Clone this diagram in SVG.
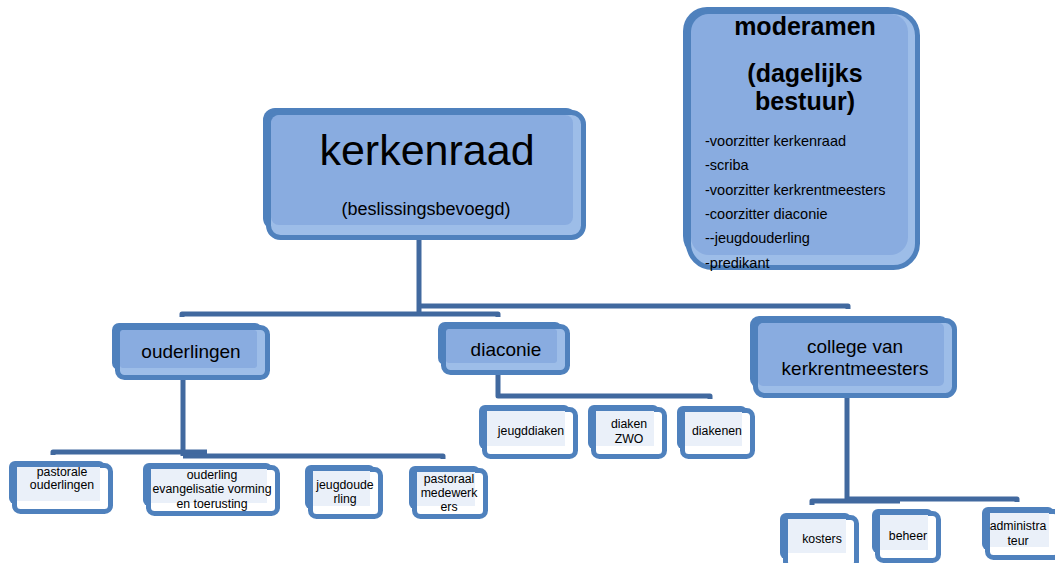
<svg xmlns="http://www.w3.org/2000/svg" width="1055" height="563" viewBox="0 0 1055 563">
<style>
text{font-family:"Liberation Sans",Arial,sans-serif;fill:#000}
.back{fill:#4f81bd}
.front{fill:#9dbde8;stroke:#4f81bd;stroke-width:5}
.inner{fill:#89ace0}
.cfront{fill:#ffffff;stroke:#4f81bd;stroke-width:5}
.cinner{fill:#eaf0f9}
.conn{fill:none;stroke:#41699f;stroke-width:5;stroke-linejoin:round}
.big{font-size:43px;text-anchor:middle}
.mid{font-size:19px;text-anchor:middle}
.small{font-size:12.3px;text-anchor:middle}
.mtitle{font-size:25px;font-weight:bold;text-anchor:middle}
.list{font-size:14.5px}
</style>
<rect width="1055" height="563" fill="#ffffff"/>
<g id="connectors">
<path class="conn" d="M419,238 V314"/>
<path class="conn" d="M419,306 H848 V309"/>
<path class="conn" d="M182,317 V314 H498 V317"/>
<path class="conn" d="M183,378 V456"/>
<path class="conn" d="M53,455 V452 H207"/>
<path class="conn" d="M183,456 H443 V459"/>
<path class="conn" d="M498,375 V396 H710 V399"/>
<path class="conn" d="M847,398 V499"/>
<path class="conn" d="M812,505 V501 H900 M847,499 H1017 V502"/>
</g>
<g id="kerkenraad">
<rect class="back" x="263" y="108" width="315" height="122" rx="12"/>
<rect class="front" x="268.5" y="112.5" width="315" height="125" rx="12"/>
<rect class="inner" x="271" y="115" width="302" height="110" rx="8"/>
<text class="big" x="427" y="165">kerkenraad</text>
<text x="426" y="215" style="font-size:18px;text-anchor:middle">(beslissingsbevoegd)</text>
</g>
<g id="moderamen">
<rect class="back" x="683" y="7" width="229" height="253" rx="24"/>
<rect class="front" x="688.5" y="11.5" width="229" height="256" rx="24"/>
<rect class="inner" x="691" y="14" width="217" height="241" rx="18"/>
<text class="mtitle" x="805" y="35">moderamen</text>
<text class="mtitle" x="805" y="82">(dagelijks</text>
<text class="mtitle" x="805" y="110">bestuur)</text>
<text class="list" x="705" y="146">-voorzitter kerkenraad</text>
<text class="list" x="705" y="170">-scriba</text>
<text class="list" x="705" y="195">-voorzitter kerkrentmeesters</text>
<text class="list" x="705" y="219">-coorzitter diaconie</text>
<text class="list" x="705" y="243">--jeugdouderling</text>
<text class="list" x="705" y="268">-predikant</text>
</g>
<g id="ouderlingen">
<rect class="back" x="112" y="323" width="150" height="47" rx="7"/>
<rect class="front" x="117.5" y="327.5" width="150" height="50" rx="7"/>
<rect class="inner" x="120" y="330" width="137" height="38" rx="3"/>
<text class="mid" x="191" y="358">ouderlingen</text>
</g>
<g id="diaconie">
<rect class="back" x="438" y="322" width="124" height="43" rx="7"/>
<rect class="front" x="443.5" y="326.5" width="124" height="46" rx="7"/>
<rect class="inner" x="446" y="329" width="111" height="34" rx="3"/>
<text class="mid" x="506" y="356">diaconie</text>
</g>
<g id="college">
<rect class="back" x="750" y="316" width="199" height="72" rx="9"/>
<rect class="front" x="755.5" y="320.5" width="199" height="75" rx="9"/>
<rect class="inner" x="758" y="323" width="186" height="63" rx="5"/>
<text class="mid" x="855" y="353">college van</text>
<text class="mid" x="855" y="375">kerkrentmeesters</text>
</g>
<g id="pastorale-ouderlingen">
<rect class="back" x="9" y="461" width="96" height="43" rx="6"/>
<rect class="front cfront" x="14.5" y="465.5" width="96" height="46" rx="6"/>
<rect class="cinner" x="17" y="467" width="83" height="34"/>
<text class="small" x="62" y="476">pastorale</text>
<text class="small" x="62" y="489">ouderlingen</text>
</g>
<g id="ouderling-evangelisatie">
<rect class="back" x="143" y="463" width="129" height="43" rx="6"/>
<rect class="front cfront" x="148.5" y="467.5" width="129" height="46" rx="6"/>
<rect class="cinner" x="151" y="469" width="116" height="34"/>
<text class="small" x="212" y="479">ouderling</text>
<text class="small" x="212" y="493">evangelisatie vorming</text>
<text class="small" x="212" y="508">en toerusting</text>
</g>
<g id="jeugdouderling">
<rect class="back" x="305" y="465" width="70" height="44" rx="6"/>
<rect class="front cfront" x="310.5" y="469.5" width="70" height="47" rx="6"/>
<rect class="cinner" x="313" y="471" width="57" height="35"/>
<text class="small" x="345" y="489">jeugdoude</text>
<text class="small" x="345" y="503">rling</text>
</g>
<g id="pastoraal-medewerkers">
<rect class="back" x="409" y="466" width="71" height="43" rx="6"/>
<rect class="front cfront" x="414.5" y="470.5" width="71" height="46" rx="6"/>
<rect class="cinner" x="417" y="472" width="58" height="34"/>
<text class="small" x="449" y="483">pastoraal</text>
<text class="small" x="449" y="497">medewerk</text>
<text class="small" x="449" y="511">ers</text>
</g>
<g id="jeugddiaken">
<rect class="back" x="479" y="405" width="91" height="44" rx="6"/>
<rect class="front cfront" x="484.5" y="409.5" width="91" height="47" rx="6"/>
<rect class="cinner" x="487" y="411" width="78" height="35"/>
<text class="small" x="531" y="435">jeugddiaken</text>
</g>
<g id="diaken-zwo">
<rect class="back" x="588" y="405" width="71" height="44" rx="6"/>
<rect class="front cfront" x="593.5" y="409.5" width="71" height="47" rx="6"/>
<rect class="cinner" x="596" y="411" width="58" height="35"/>
<text class="small" x="629" y="428">diaken</text>
<text class="small" x="629" y="443">ZWO</text>
</g>
<g id="diakenen">
<rect class="back" x="677" y="406" width="70" height="43" rx="6"/>
<rect class="front cfront" x="682.5" y="410.5" width="70" height="46" rx="6"/>
<rect class="cinner" x="685" y="412" width="57" height="34"/>
<text class="small" x="717" y="435">diakenen</text>
</g>
<g id="kosters">
<rect class="back" x="780" y="513" width="71" height="46" rx="6"/>
<rect class="front cfront" x="785.5" y="517.5" width="71" height="50" rx="6"/>
<rect class="cinner" x="788" y="519" width="58" height="34"/>
<text class="small" x="822" y="543">kosters</text>
</g>
<g id="beheer">
<rect class="back" x="872" y="509" width="61" height="44" rx="6"/>
<rect class="front cfront" x="877.5" y="513.5" width="61" height="47" rx="6"/>
<rect class="cinner" x="880" y="515" width="48" height="35"/>
<text class="small" x="908" y="540">beheer</text>
</g>
<g id="administrateur">
<rect class="back" x="982" y="507" width="72" height="43" rx="6"/>
<rect class="front cfront" x="987.5" y="511.5" width="72" height="46" rx="6"/>
<rect class="cinner" x="990" y="513" width="59" height="34"/>
<text class="small" x="1018" y="530">administra</text>
<text class="small" x="1018" y="545">teur</text>
</g>
</svg>
